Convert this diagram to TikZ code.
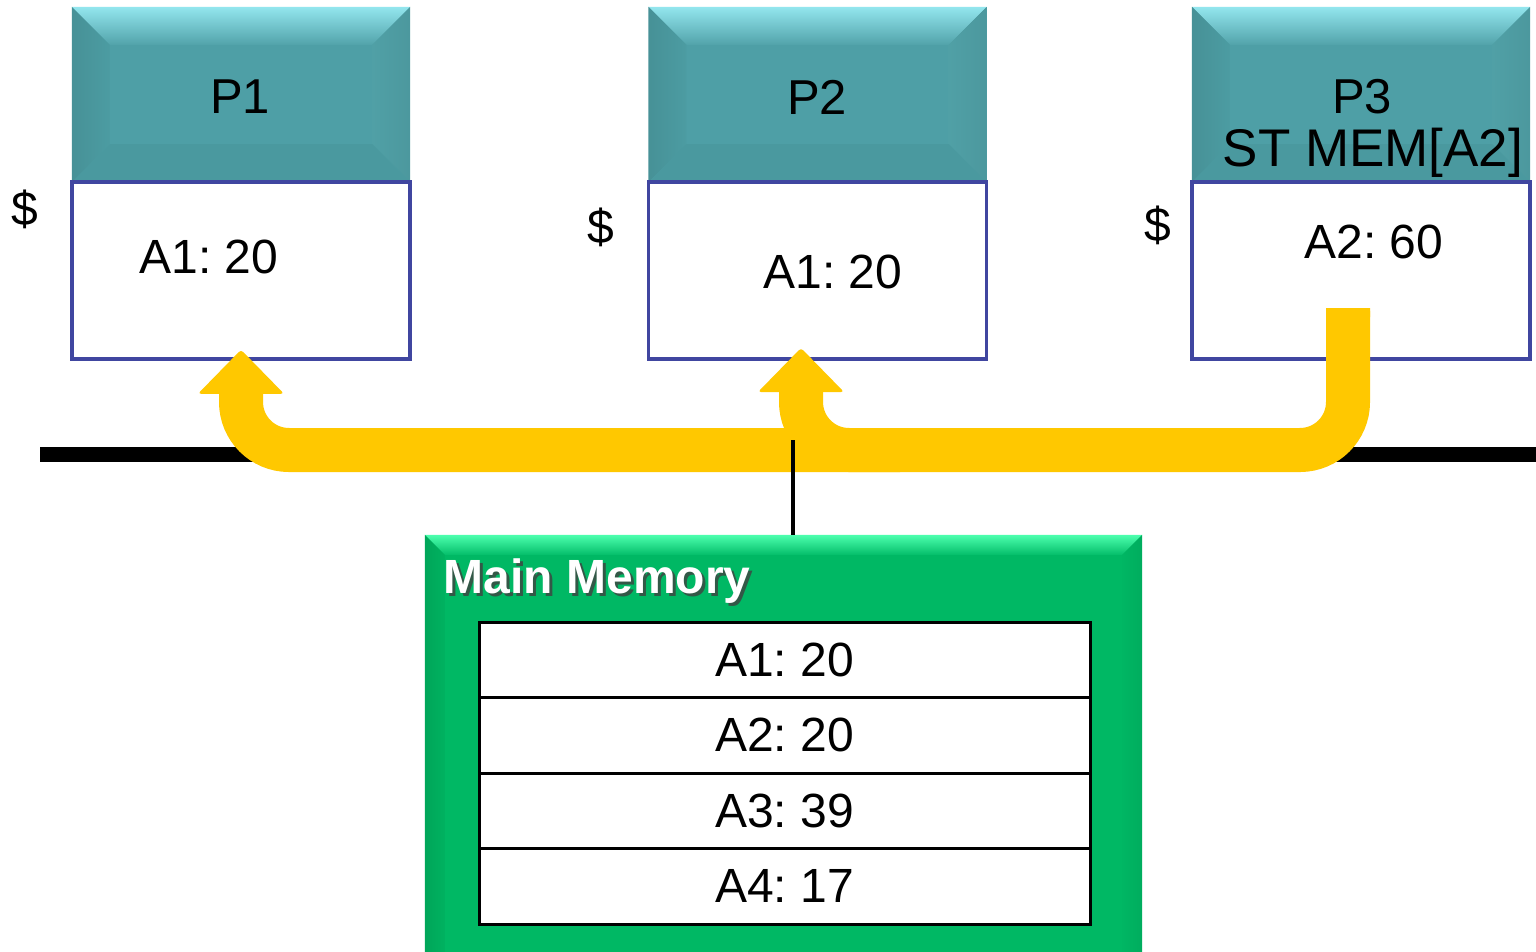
\documentclass[tikz,border=0pt]{standalone}
\usepackage{fontspec}
\setmainfont{Liberation Sans}
\usetikzlibrary{calc}
\frenchspacing

\definecolor{tealbase}{HTML}{4E9FA6}
\definecolor{tealtop}{HTML}{93E6EE}
\definecolor{tealmid}{HTML}{52A3AA}
\definecolor{tealleft}{HTML}{4C9CA2}
\definecolor{tealright}{HTML}{50A0A6}
\definecolor{tealbottom}{HTML}{4A999F}
\definecolor{cacheblue}{HTML}{4046A0}
\definecolor{busyellow}{HTML}{FFC800}
\definecolor{memgreen}{HTML}{00B864}
\definecolor{memtop}{HTML}{4DFFAE}
\definecolor{memmid}{HTML}{04BE6A}
\definecolor{memleft}{HTML}{00B260}
\definecolor{memright}{HTML}{00B663}

% bevelled faces laid over a rectangular node: #1 node, #2 bevel depth,
% #3/#4 top face colours (outer/inner), #5 left, #6 right, #7 bottom
\newcommand\bevelfaces[7]{%
  \path (#1.north west) coordinate (o1) (#1.north east) coordinate (o2)
        (#1.south east) coordinate (o3) (#1.south west) coordinate (o4);
  \path ($(o1)+(#2,#2)$) coordinate (i1) ($(o2)+(-#2,#2)$) coordinate (i2)
        ($(o3)+(-#2,-#2)$) coordinate (i3) ($(o4)+(#2,-#2)$) coordinate (i4);
  \shade[top color=#3,bottom color=#4] (o1)--(o2)--(i2)--(i1)--cycle;
  \shade[left color=#5!93!black,right color=#5] (o1)--(i1)--(i4)--(o4)--cycle;
  \shade[left color=#6,right color=#6!95!black] (o2)--(o3)--(i3)--(i2)--cycle;
  \fill[#7] (o4)--(i4)--(i3)--(o3)--cycle;
}

\tikzset{
  procbox/.style={rectangle,fill=tealbase,inner sep=0pt,
    minimum width=338pt,minimum height=175pt},
  cachebox/.style={rectangle,draw=cacheblue,line width=3.5pt,fill=white,
    inner sep=0pt,minimum width=338pt,minimum height=177pt},
  bigtxt/.style={inner sep=0pt,font=\fontsize{48}{56}\selectfont},
  proctxt/.style={inner sep=0pt,font=\fontsize{49}{58}\selectfont},
  band/.style={draw=busyellow,line width=44pt,rounded corners=48pt},
  arrowtip/.style={fill=busyellow,rounded corners=3pt},
  busline/.style={line width=15pt,black},
  memrow/.style={rectangle,draw=black,line width=3pt,fill=white,inner sep=0pt,
    minimum width=611pt,minimum height=75.5pt,font=\fontsize{48}{56}\selectfont},
  memtitle/.style={inner sep=0pt,anchor=base west,
    font=\fontsize{48}{56}\selectfont\bfseries},
}

\begin{document}
\begin{tikzpicture}[x=1pt,y=-1pt]
\clip (0,0) rectangle (1536,951);
\fill[white] (0,0) rectangle (1536,951);

% processors
\node[procbox] (p1) at (241,94.5) {};
\node[procbox] (p2) at (817.5,94.5) {};
\node[procbox] (p3) at (1361,94.5) {};
\foreach \p in {p1,p2,p3}{
  \bevelfaces{\p}{38}{tealtop}{tealmid}{tealleft}{tealright}{tealbottom}
}
\node[proctxt] (p1l) at (240,97) {P1};
\node[proctxt] (p2l) at (817,97) {P2};
\node[proctxt] (p3l) at (1362,97) {P3};
\node[inner sep=0pt,anchor=base,font=\fontsize{53}{60}\selectfont]
  (p3op) at (1373,166) {ST MEM[A2]};

% caches
\node[cachebox] (c1) at (241,270.5) {};
\node[cachebox] (c2) at (817.5,270.5) {};
\node[cachebox] (c3) at (1361,270.5) {};
\node[bigtxt] (c1v) at (209,257) {A1: 20};
\node[bigtxt] (c2v) at (833,272) {A1: 20};
\node[bigtxt] (c3v) at (1374,242) {A2: 60};
\node[bigtxt] (d1) at (25,209) {\$};
\node[bigtxt] (d2) at (601,227) {\$};
\node[bigtxt] (d3) at (1158,225) {\$};

% bus
\coordinate (busL) at (40,454.5);
\coordinate (busR) at (1536,454.5);
\draw[busline] (busL) -- (busR);

% write-update traffic from P3 to the other caches
\coordinate (src) at (1348,308);
\coordinate (t1) at ($(c1.south)+(0,-11)$);
\coordinate (t2) at (801,348);
\draw[band] (src) -- (1348,450) -- (241,450) -- ($(t1)+(0,42)$);
\draw[band] (900,450) -| ($(t2)+(0,42)$);
\fill[busyellow,rounded corners=3pt] (1326,308) rectangle (1370,320);
\fill[arrowtip] ($(t1)+(-43,44)$) -- (t1) -- ($(t1)+(43,44)$) -- cycle;
\fill[arrowtip] ($(t2)+(-43,44)$) -- (t2) -- ($(t2)+(43,44)$) -- cycle;

% main memory
\node[rectangle,fill=memgreen,inner sep=0pt,minimum width=717pt,
      minimum height=440pt] (mm) at (783.5,755) {};
\bevelfaces{mm}{20}{memtop}{memmid}{memleft}{memright}{memgreen}
\coordinate (tap) at (793,440);
\draw[line width=3.3pt] (tap) -- (tap |- mm.north);
\node[memtitle,text=black!75,opacity=0.8] (mmsh) at (446.5,596.5) {Main Memory};
\node[memtitle,text=white] (mmt) at (443.5,593.5) {Main Memory};

\node[memrow] (r1) at (784.5,659.75) {A1: 20};
\node[memrow] (r2) at (784.5,735.25) {A2: 20};
\node[memrow] (r3) at (784.5,810.75) {A3: 39};
\node[memrow] (r4) at (784.5,886.25) {A4: 17};
\end{tikzpicture}
\end{document}
